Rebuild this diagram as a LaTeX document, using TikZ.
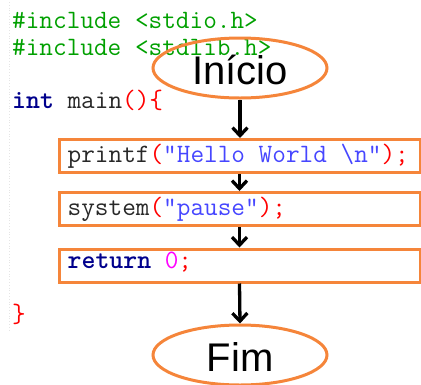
\documentclass[tikz,border=0pt]{standalone}
\usepackage{fontspec}
\setmainfont{Liberation Sans}
\usetikzlibrary{arrows.meta,shapes.geometric}
\definecolor{boxorange}{RGB}{245,133,58}
\definecolor{incgreen}{RGB}{0,160,0}
\definecolor{kwblue}{RGB}{0,0,140}
\definecolor{strblue}{RGB}{70,70,255}
\definecolor{symred}{RGB}{255,0,0}
\definecolor{nummag}{RGB}{255,0,255}
\definecolor{plaintext}{RGB}{40,40,40}
\begin{document}
\begin{tikzpicture}[x=1pt,y=-1pt,
  code/.style={anchor=base west,inner sep=0pt,font=\ttfamily\fontsize{26.5}{28}\selectfont,text=plaintext},
  stepbox/.style={draw=boxorange,line width=3pt,minimum width=361pt,minimum height=33pt,inner sep=0pt},
  term/.style={ellipse,draw=boxorange,line width=3pt,minimum width=174pt,minimum height=60pt,inner sep=0pt},
  termtext/.style={inner sep=0pt,font=\fontsize{40}{44}\selectfont,text=black},
  arr/.style={draw=black,line width=3.3pt,-{Straight Barb[length=8pt,width=15pt,line width=3.3pt]}}]
\useasboundingbox (0,0) rectangle (421,384);
\draw[gray!20,line width=0.8pt,dotted] (9.5,2) -- (9.5,332);
% code
\node[code,text=incgreen] (l1) at (12,28) {\#include <stdio.h>};
\node[code,text=incgreen] (l2) at (12,55) {\#include <stdlib.h>};
\node[code] (l4) at (12,108) {\textcolor{kwblue}{\bfseries int} main\textcolor{symred}{()\{}};
\node[code] (l6) at (67.5,162) {printf\textcolor{symred}{(}\textcolor{strblue}{"Hello World \textbackslash n"}\textcolor{symred}{);}};
\node[code] (l8) at (67.5,215) {system\textcolor{symred}{(}\textcolor{strblue}{"pause"}\textcolor{symred}{);}};
\node[code] (l10) at (67.5,268) {\textcolor{kwblue}{\bfseries return} \textcolor{nummag}{0}\textcolor{symred}{;}};
\node[code,text=symred] (l12) at (12,322) {\}};
% flowchart
\node[term] (inicio) at (240,68) {};
\node[termtext] (inicioText) at (240,70) {Início};
\node[stepbox] (b1) at (239.5,156) {};
\node[stepbox] (b2) at (239.5,209) {};
\node[stepbox] (b3) at (239.5,265.5) {};
\node[term] (fim) at (240,355) {};
\node[termtext] (fimText) at (240,357) {Fim};
\draw[arr] (inicio.south) -- (inicio.south |- b1.north);
\draw[arr] (b1.south) -- (b2.north);
\draw[arr] (b2.south) -- (b3.north);
\draw[arr] (b3.south) -- (fim.north);
\end{tikzpicture}
\end{document}
